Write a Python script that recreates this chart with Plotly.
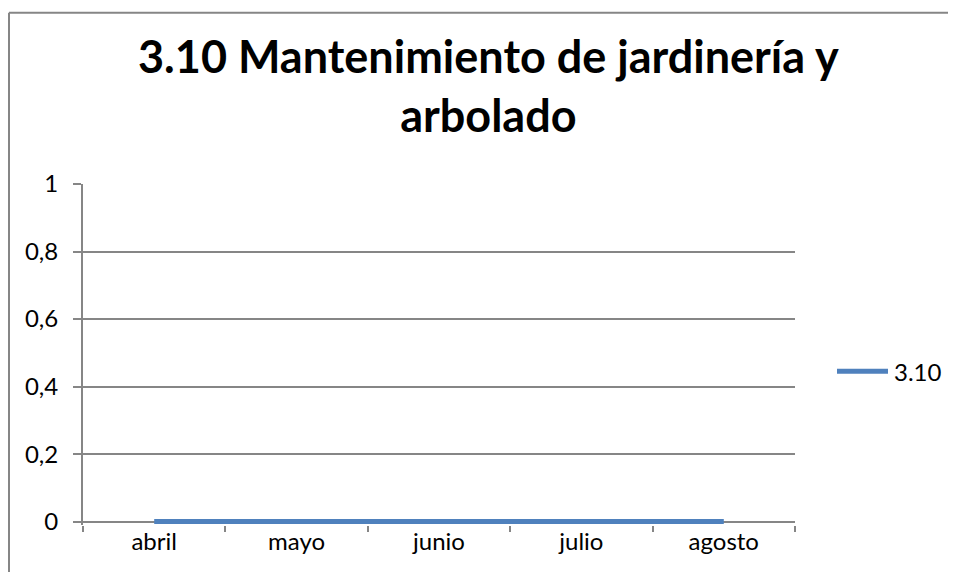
import plotly.graph_objects as go

months = ["abril", "mayo", "junio", "julio", "agosto"]
values = [0, 0, 0, 0, 0]
series_name = "3.10"
title_text = "3.10 Mantenimiento de jardinería y<br>arbolado"

OFF = 8  # page body margin shifts the figure by 8px
W, H = 948, 564
y_lo, y_hi = -0.01, 1.0
y0_px, y1_px = 521.5, 183.5          # screen rows of value 0 and value 1
unit = y0_px - y1_px
L, T = 83 - OFF, y1_px - OFF
R = W - (795 - OFF)
B = H - (y0_px - y_lo * unit - OFF)
pw, ph = W - L - R, H - T - B
line_color = "#4F81BD"
axis_color = "#868686"


def px_x(x):
    return (x - OFF - L) / pw


def px_y(y):
    return (H - B - (y - OFF)) / ph


fig = go.Figure()
fig.add_trace(go.Scatter(
    x=months, y=values, mode="lines", name=series_name, showlegend=False,
    line=dict(color=line_color, width=5),
))

# outer chart border (only left and top edges are visible in the crop)
fig.add_shape(type="line", xref="paper", yref="paper",
              x0=px_x(9), x1=px_x(9), y0=-1, y1=px_y(12), line=dict(color=axis_color, width=2))
fig.add_shape(type="line", xref="paper", yref="paper",
              x0=px_x(9), x1=2, y0=px_y(12), y1=px_y(12), line=dict(color=axis_color, width=2))

# legend drawn by hand to get the long Excel-style sample line
fig.add_shape(type="line", xref="paper", yref="paper",
              x0=px_x(837), x1=px_x(888), y0=px_y(371), y1=px_y(371),
              line=dict(color=line_color, width=5))
fig.add_annotation(text=series_name, xref="paper", yref="paper",
                   x=px_x(892), y=px_y(371), xanchor="left", yanchor="middle",
                   showarrow=False, font=dict(size=24, family="Lato", color="black"))

fig.add_annotation(text="<b>" + title_text + "</b>", xref="paper", yref="paper",
                   x=px_x(488), y=px_y(85), xanchor="center", yanchor="middle",
                   showarrow=False, font=dict(size=45, family="Lato", color="black"))

fig.update_layout(
    width=W, height=H,
    margin=dict(l=L, r=R, t=T, b=B),
    paper_bgcolor="white", plot_bgcolor="white",
    separators=",.",
    showlegend=False,
    font=dict(family="Lato", size=24, color="black"),
    xaxis=dict(type="category", range=[-0.5, 4.5], tickson="boundaries",
               ticks="outside", ticklen=6, tickcolor=axis_color, tickwidth=2,
               showline=False, showgrid=False, zeroline=False, tickfont=dict(size=24)),
    yaxis=dict(range=[y_lo, y_hi], tickvals=[0, 0.2, 0.4, 0.6, 0.8, 1], tickformat=".1~f",
               ticks="outside", ticklen=8, tickcolor=axis_color, tickwidth=2,
               showline=True, linecolor=axis_color, linewidth=2, layer="below traces",
               showgrid=True, gridcolor=axis_color, gridwidth=2,
               zeroline=True, zerolinecolor=axis_color, zerolinewidth=2,
               ticklabelstandoff=10, tickfont=dict(size=24)),
)

fig.write_html("out.html")
